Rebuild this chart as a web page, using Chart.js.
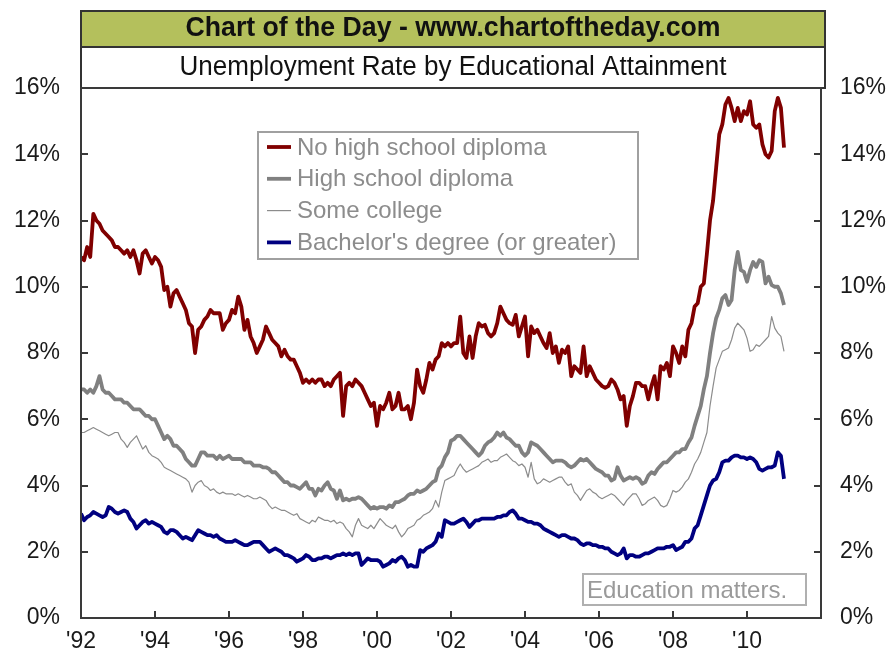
<!DOCTYPE html>
<html>
<head>
<meta charset="utf-8">
<script src="https://cdn.jsdelivr.net/npm/chart.js@4"></script>
<style>
  body { margin: 0; background: #fff; }
  canvas { display: block; }
</style>
</head>
<body>
<canvas id="chart" width="891" height="661"></canvas>
<script>
// Monthly unemployment rates (%), Jan 1992 .. Jan 2011
const startYear = 1992;

const noHighSchool = [
  10.9, 10.8, 11.2, 10.9, 12.2, 12.0, 11.9, 11.7, 11.6, 11.5, 11.4, 11.2,
  11.2, 11.1, 11.0, 11.1, 10.9, 11.1, 10.8, 10.4, 11.0, 11.1, 10.9, 10.7,
  10.9, 10.8, 10.6, 9.9, 10.0, 9.4, 9.8, 9.9, 9.7, 9.5, 9.3, 8.9,
  8.8, 8.0, 8.7, 8.8, 9.0, 9.1, 9.3, 9.2, 9.2, 9.2, 8.7, 8.9,
  9.0, 9.3, 9.2, 9.7, 9.4, 8.7, 9.0, 8.5, 8.3, 8.0, 8.2, 8.4,
  8.8, 8.6, 8.4, 8.3, 8.2, 7.9, 8.1, 7.9, 7.8, 7.8, 7.6, 7.4,
  7.1, 7.2, 7.1, 7.2, 7.1, 7.2, 7.2, 7.0, 7.1, 7.0, 7.2, 7.3,
  7.4, 6.1, 7.0, 7.1, 7.0, 7.2, 7.1, 7.0, 6.8, 6.6, 6.4, 6.5,
  5.8, 6.4, 6.3, 6.5, 6.8, 6.3, 6.4, 6.8, 6.3, 6.3, 6.4, 6.0,
  6.5, 7.5, 7.0, 6.8, 7.2, 7.7, 7.5, 7.8, 7.9, 8.3, 8.2, 8.3,
  8.2, 8.3, 8.3, 9.1, 8.0, 7.85, 8.5, 7.85, 8.5, 8.9, 8.8, 8.85,
  8.6, 8.5, 8.6, 8.9, 9.4, 9.2, 9.0, 8.9, 8.85, 9.15, 8.5, 8.8,
  9.1, 7.9, 8.8, 8.6, 8.7, 8.5, 8.3, 8.15, 8.6, 8.0, 8.2, 7.7,
  8.1, 8.0, 8.2, 7.3, 7.6, 7.5, 7.4, 8.2, 7.3, 7.6, 7.4, 7.2,
  7.1, 7.0, 6.95, 7.0, 7.2, 7.1, 6.9, 6.6, 6.7, 5.8, 6.4, 6.7,
  7.1, 7.1, 7.0, 7.0, 6.6, 7.0, 7.3, 6.6, 7.6, 7.5, 7.7, 7.3,
  8.2, 8.0, 7.7, 8.2, 7.9, 8.7, 8.9, 9.4, 9.5, 10.0, 10.1, 11.0,
  12.0, 12.6, 13.6, 14.6, 14.9, 15.5, 15.7, 15.4, 15.0, 15.4, 15.0, 15.3,
  15.2, 15.6, 14.9, 14.8, 14.9, 14.3, 14.0, 13.9, 14.1, 15.3, 15.7, 15.4,
  14.2
];

const highSchool = [
  6.9, 6.9, 6.8, 6.9, 6.8, 7.0, 7.3, 6.9, 6.8, 6.8, 6.7, 6.6,
  6.6, 6.6, 6.5, 6.5, 6.4, 6.3, 6.3, 6.3, 6.2, 6.1, 6.1, 6.0,
  6.0, 5.8, 5.6, 5.4, 5.5, 5.4, 5.2, 5.2, 5.1, 5.0, 4.8, 4.7,
  4.6, 4.6, 4.8, 5.0, 5.0, 4.9, 4.9, 4.9, 4.8, 4.9, 4.8, 4.85,
  4.9, 4.8, 4.8, 4.8, 4.8, 4.7, 4.7, 4.7, 4.6, 4.6, 4.6, 4.55,
  4.55, 4.5, 4.4, 4.4, 4.3, 4.2, 4.1, 4.1, 4.0, 4.0, 3.95, 3.9,
  4.0, 4.1, 3.9, 3.9, 3.7, 3.9, 3.85, 4.0, 4.1, 3.9, 3.85, 3.6,
  3.85, 3.55, 3.6, 3.55, 3.6, 3.6, 3.65, 3.6, 3.5, 3.4, 3.3, 3.35,
  3.3, 3.35, 3.35, 3.3, 3.4, 3.35, 3.5, 3.5, 3.55, 3.6, 3.7, 3.75,
  3.75, 3.85, 3.8, 3.85, 3.9, 4.0, 4.1, 4.15, 4.5, 4.6, 4.85, 5.0,
  5.35, 5.4, 5.5, 5.5, 5.4, 5.3, 5.2, 5.1, 5.0, 4.9, 5.0, 5.2,
  5.3, 5.35, 5.45, 5.6, 5.5, 5.6, 5.45, 5.4, 5.3, 5.2, 5.2, 5.0,
  4.9, 5.0, 5.3, 5.25, 5.2, 5.1, 5.0, 4.9, 4.8, 4.7, 4.75, 4.75,
  4.75, 4.7, 4.6, 4.55, 4.6, 4.7, 4.8, 4.75, 4.8, 4.7, 4.6, 4.5,
  4.45, 4.4, 4.3, 4.3, 4.15, 4.2, 4.55, 4.3, 4.15, 4.2, 4.25, 4.2,
  4.25, 4.2, 4.05, 4.1, 4.3, 4.4, 4.35, 4.5, 4.6, 4.7, 4.7, 4.8,
  4.9, 5.0, 5.0, 5.1, 5.1, 5.3, 5.45, 5.8, 6.1, 6.4, 6.9, 7.3,
  8.0, 8.6, 9.05, 9.3, 9.65, 9.75, 9.45, 9.6, 10.5, 11.05, 10.5, 10.45,
  10.15, 10.5, 10.75, 10.6, 10.8, 10.75, 10.1, 10.3, 10.05, 10.0, 10.0, 9.8,
  9.45
];

const someCollege = [
  5.6, 5.6, 5.65, 5.7, 5.75, 5.7, 5.65, 5.6, 5.55, 5.5, 5.55, 5.6,
  5.6, 5.4, 5.3, 5.15, 5.3, 5.4, 5.5, 5.3, 5.1, 5.2, 5.0, 4.9,
  4.85, 4.8, 4.7, 4.55, 4.5, 4.45, 4.4, 4.35, 4.3, 4.25, 4.2, 4.1,
  3.8, 4.0, 4.1, 4.15, 4.0, 3.95, 3.85, 3.9, 3.8, 3.75, 3.8, 3.75,
  3.75, 3.75, 3.7, 3.75, 3.7, 3.65, 3.7, 3.65, 3.6, 3.6, 3.65, 3.6,
  3.55, 3.4, 3.3, 3.35, 3.3, 3.25, 3.25, 3.2, 3.15, 3.1, 3.15, 3.0,
  2.95, 2.9, 2.85, 2.95, 2.9, 3.05, 3.0, 2.95, 2.95, 2.9, 2.95, 2.85,
  2.9, 2.85, 2.7, 2.6, 2.45, 2.8, 3.0, 2.8, 2.75, 2.7, 2.8, 2.7,
  2.85, 3.0, 2.9, 2.8, 2.75, 2.7, 2.8, 2.6, 2.45, 2.55, 2.7, 2.75,
  2.8, 2.95, 3.0, 3.1, 3.15, 3.2, 3.3, 3.55, 3.35, 3.8, 4.15, 4.2,
  4.25, 4.3, 4.5, 4.65, 4.5, 4.4, 4.45, 4.5, 4.55, 4.6, 4.7, 4.75,
  4.8, 4.7, 4.75, 4.75, 4.85, 4.9, 4.95, 4.85, 4.75, 4.7, 4.6, 4.65,
  4.55, 4.25, 4.7, 4.2, 4.05, 4.1, 4.2, 4.15, 4.1, 4.15, 4.2, 4.25,
  4.25, 4.1, 4.0, 4.05, 3.8, 3.7, 3.55, 3.7, 3.85, 3.9, 3.8, 3.75,
  3.65, 3.6, 3.65, 3.7, 3.75, 3.7, 3.6, 3.5, 3.4, 3.55, 3.65, 3.75,
  3.75, 3.6, 3.4, 3.45, 3.55, 3.6, 3.65, 3.55, 3.4, 3.35, 3.4, 3.6,
  3.85, 3.8, 3.85, 3.95, 4.1, 4.2, 4.4, 4.65, 4.8, 5.0, 5.3, 5.6,
  6.4, 7.0, 7.55, 7.8, 8.05, 8.1, 8.15, 8.4, 8.75, 8.9, 8.8, 8.7,
  8.45, 8.05, 8.1, 8.25, 8.2, 8.3, 8.4, 8.5, 9.1, 8.75, 8.6, 8.5,
  8.05
];

const bachelors = [
  3.15, 2.95, 3.05, 3.1, 3.2, 3.15, 3.1, 3.05, 3.1, 3.35, 3.3, 3.2,
  3.15, 3.2, 3.25, 3.2, 3.0, 2.9, 2.7, 2.8, 2.9, 2.95, 2.85, 2.9,
  2.85, 2.8, 2.75, 2.6, 2.55, 2.65, 2.65, 2.6, 2.5, 2.4, 2.45, 2.4,
  2.35, 2.5, 2.65, 2.6, 2.55, 2.5, 2.5, 2.45, 2.5, 2.4, 2.35, 2.3,
  2.3, 2.3, 2.35, 2.3, 2.25, 2.2, 2.2, 2.25, 2.3, 2.3, 2.3, 2.2,
  2.1, 2.0, 2.05, 2.1, 2.05, 2.0, 1.9, 1.9, 1.85, 1.8, 1.7, 1.75,
  1.8, 1.9, 1.85, 1.75, 1.75, 1.8, 1.8, 1.85, 1.85, 1.8, 1.85, 1.9,
  1.9, 1.95, 1.9, 1.95, 1.9, 1.95, 1.95, 1.6, 1.7, 1.8, 1.75, 1.75,
  1.75, 1.7, 1.55, 1.6, 1.65, 1.75, 1.7, 1.8, 1.85, 1.75, 1.55, 1.6,
  1.55, 1.55, 2.05, 2.0, 2.1, 2.15, 2.2, 2.3, 2.55, 2.45, 2.95, 2.9,
  2.85, 2.85, 2.9, 2.95, 3.0, 2.9, 2.75, 2.85, 2.95, 2.95, 3.0, 3.0,
  3.0, 3.0, 3.0, 3.05, 3.05, 3.1, 3.1, 3.2, 3.25, 3.15, 3.0, 3.0,
  2.95, 2.9, 2.9, 2.85, 2.85, 2.8, 2.7, 2.65, 2.6, 2.55, 2.5, 2.45,
  2.5, 2.5, 2.45, 2.4, 2.4, 2.35, 2.25, 2.2, 2.25, 2.25, 2.2, 2.2,
  2.15, 2.15, 2.1, 2.1, 2.0, 1.95, 1.9, 1.95, 2.1, 1.8, 1.9, 1.9,
  1.85, 1.85, 1.9, 1.95, 1.95, 2.0, 2.05, 2.1, 2.1, 2.1, 2.15, 2.15,
  2.2, 2.05, 2.1, 2.15, 2.3, 2.3, 2.4, 2.7, 2.8, 3.1, 3.4, 3.7,
  4.0, 4.15, 4.2, 4.4, 4.7, 4.75, 4.75, 4.85, 4.9, 4.9, 4.85, 4.85,
  4.8, 4.85, 4.8, 4.7, 4.5, 4.45, 4.5, 4.55, 4.55, 4.6, 5.0, 4.9,
  4.2
];

const seriesNames = [
  'No high school diploma',
  'High school diploma',
  'Some college',
  "Bachelor's degree (or greater)"
];
const yearTicks = [1992, 1994, 1996, 1998, 2000, 2002, 2004, 2006, 2008, 2010];
const rateTicks = [0, 2, 4, 6, 8, 10, 12, 14, 16];

const FONT = '"Liberation Sans", Arial, sans-serif';
const NARROW = '"Liberation Sans Narrow", "Arial Narrow", "Liberation Sans", Arial, sans-serif';

function toPoints(arr) {
  return arr.map((v, i) => ({ x: startYear + i / 12, y: v }));
}

// draws text squeezed to a max width (narrow title look)
function fitText(ctx, text, cx, cy, maxW) {
  const w = ctx.measureText(text).width;
  ctx.save();
  ctx.translate(cx, cy);
  if (w > maxW) ctx.scale(maxW / w, 1);
  ctx.fillText(text, 0, 0);
  ctx.restore();
}

const decor = {
  id: 'decor',
  beforeDraw(chart) {
    const ctx = chart.ctx;
    const { left, right } = chart.chartArea;
    const w = right - left + 4;
    ctx.save();
    // title bars
    ctx.fillStyle = '#b4c05c';
    ctx.fillRect(left, 11, w, 36);
    ctx.fillStyle = '#fff';
    ctx.fillRect(left, 47, w, 41);
    ctx.strokeStyle = '#333';
    ctx.lineWidth = 2;
    ctx.strokeRect(left, 11, w, 36);
    ctx.strokeRect(left, 47, w, 41);
    const cx = left + w / 2;
    ctx.textAlign = 'center';
    ctx.textBaseline = 'middle';
    ctx.fillStyle = '#111';
    ctx.font = 'bold 27px ' + NARROW;
    fitText(ctx, 'Chart of the Day - www.chartoftheday.com', cx, 29, 535);
    ctx.font = '27px ' + NARROW;
    fitText(ctx, 'Unemployment Rate by Educational Attainment', cx, 68, 547);
    ctx.restore();
  },
  afterDraw(chart) {
    const ctx = chart.ctx;
    const { left, right, top, bottom } = chart.chartArea;
    const xs = chart.scales.x, ys = chart.scales.y;
    ctx.save();
    // frame
    ctx.strokeStyle = '#3a3a3a';
    ctx.lineWidth = 2;
    ctx.strokeRect(left, top, right - left, bottom - top);
    // inside tick marks
    ctx.beginPath();
    yearTicks.forEach(v => {
      const px = Math.round(xs.getPixelForValue(v));
      ctx.moveTo(px, bottom);
      ctx.lineTo(px, bottom - 7);
    });
    rateTicks.forEach(v => {
      const py = Math.round(ys.getPixelForValue(v));
      ctx.moveTo(left, py);
      ctx.lineTo(left + 7, py);
      ctx.moveTo(right, py);
      ctx.lineTo(right - 7, py);
    });
    ctx.stroke();

    // legend box
    ctx.fillStyle = '#fff';
    ctx.fillRect(258, 132, 380, 127);
    ctx.strokeStyle = '#a0a0a0';
    ctx.lineWidth = 2;
    ctx.strokeRect(258, 132, 380, 127);
    ctx.font = '24px ' + FONT;
    ctx.textAlign = 'left';
    ctx.textBaseline = 'middle';
    chart.data.datasets.forEach((ds, i) => {
      const y = 147 + i * 31.8;
      ctx.strokeStyle = ds.borderColor;
      ctx.lineWidth = ds.borderWidth;
      ctx.beginPath();
      ctx.moveTo(267, y);
      ctx.lineTo(291, y);
      ctx.stroke();
      ctx.fillStyle = '#8c8c8c';
      ctx.fillText(ds.label, 297, y + 1);
    });

    // note box
    ctx.strokeStyle = '#b0b0b0';
    ctx.lineWidth = 2;
    ctx.strokeRect(583, 574, 223, 31);
    ctx.fillStyle = '#9a9a9a';
    ctx.fillText('Education matters.', 587, 591);
    ctx.restore();
  }
};

const tickFont = { family: FONT, size: 23 };
const noGrid = { display: false, drawTicks: false, tickLength: 0 };

new Chart(document.getElementById('chart'), {
  type: 'line',
  data: {
    datasets: [
      { label: seriesNames[0], data: toPoints(noHighSchool), borderColor: '#800000', borderWidth: 3.8 },
      { label: seriesNames[1], data: toPoints(highSchool), borderColor: '#808080', borderWidth: 3.8 },
      { label: seriesNames[2], data: toPoints(someCollege), borderColor: '#8c8c8c', borderWidth: 1.2 },
      { label: seriesNames[3], data: toPoints(bachelors), borderColor: '#000080', borderWidth: 3.8 }
    ]
  },
  options: {
    responsive: false,
    animation: false,
    layout: { padding: { top: 88 } },
    elements: { point: { radius: 0 }, line: { tension: 0, borderJoinStyle: 'round' } },
    plugins: { legend: { display: false }, tooltip: { enabled: false } },
    scales: {
      x: {
        type: 'linear', min: 1992, max: 2012,
        grid: noGrid, border: { display: false },
        afterBuildTicks: s => { s.ticks = yearTicks.map(v => ({ value: v })); },
        afterFit: s => { s.height = 43; },
        ticks: {
          padding: 10, autoSkip: false, maxRotation: 0, color: '#1a1a1a', font: tickFont,
          callback: v => "'" + String(v).slice(2)
        }
      },
      y: {
        position: 'left', min: 0, max: 16,
        grid: noGrid, border: { display: false },
        afterBuildTicks: s => { s.ticks = rateTicks.map(v => ({ value: v })); },
        afterFit: s => { s.width = 81; },
        ticks: { padding: 21, color: '#1a1a1a', font: tickFont, callback: v => v + '%' }
      },
      y2: {
        position: 'right', min: 0, max: 16,
        grid: noGrid, border: { display: false },
        afterBuildTicks: s => { s.ticks = rateTicks.map(v => ({ value: v })); },
        afterFit: s => { s.width = 70; },
        ticks: { padding: 19, color: '#1a1a1a', font: tickFont, callback: v => v + '%' }
      }
    }
  },
  plugins: [decor]
});
</script>
</body>
</html>
